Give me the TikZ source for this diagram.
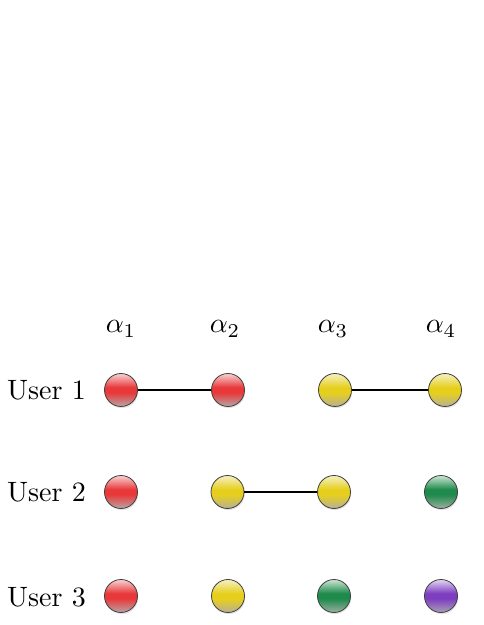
\documentclass[tikz,border=0pt]{standalone}
\usetikzlibrary{shadows}
\definecolor{redT}{HTML}{F8D2D2}
\definecolor{redM}{HTML}{E8383A}
\definecolor{redB}{HTML}{B8A6A6}
\definecolor{yelT}{HTML}{F6F0C4}
\definecolor{yelM}{HTML}{E6CF1C}
\definecolor{yelB}{HTML}{B8B096}
\definecolor{grnT}{HTML}{CDE6D4}
\definecolor{grnM}{HTML}{1E8A4C}
\definecolor{grnB}{HTML}{9CB0A2}
\definecolor{purT}{HTML}{E2D6F2}
\definecolor{purM}{HTML}{7E3EC0}
\definecolor{purB}{HTML}{A9A1B5}
\pgfdeclareverticalshading{redball}{100bp}{color(0bp)=(redB); color(25bp)=(redB); color(46bp)=(redM); color(54bp)=(redM); color(75bp)=(redT); color(100bp)=(redT)}
\pgfdeclareverticalshading{yelball}{100bp}{color(0bp)=(yelB); color(25bp)=(yelB); color(46bp)=(yelM); color(54bp)=(yelM); color(75bp)=(yelT); color(100bp)=(yelT)}
\pgfdeclareverticalshading{grnball}{100bp}{color(0bp)=(grnB); color(25bp)=(grnB); color(46bp)=(grnM); color(54bp)=(grnM); color(75bp)=(grnT); color(100bp)=(grnT)}
\pgfdeclareverticalshading{purball}{100bp}{color(0bp)=(purB); color(25bp)=(purB); color(46bp)=(purM); color(54bp)=(purM); color(75bp)=(purT); color(100bp)=(purT)}
\tikzset{
  ball/.style={circle, minimum size=33pt, inner sep=0pt, draw=black!75, line width=0.8pt,
    drop shadow={shadow xshift=0.8pt, shadow yshift=-1.6pt, opacity=0.22}},
  rball/.style={ball, shading=redball},
  yball/.style={ball, shading=yelball},
  gball/.style={ball, shading=grnball},
  pball/.style={ball, shading=purball},
  ulabel/.style={anchor=base west, inner sep=0pt},
  alab/.style={anchor=base, inner sep=0pt},
  link/.style={line width=1.9pt, black}
}
\newcommand{\bigtxt}[1]{\scalebox{2.8}{#1}}
\begin{document}
\begin{tikzpicture}[x=1pt,y=1pt]
\useasboundingbox (0,0) rectangle (483,625);
% column headers
\node[alab] (h1) at (121,292) {\bigtxt{$\alpha_1$}};
\node[alab] (h2) at (225,292) {\bigtxt{$\alpha_2$}};
\node[alab] (h3) at (333,292) {\bigtxt{$\alpha_3$}};
\node[alab] (h4) at (441,292) {\bigtxt{$\alpha_4$}};
% user labels
\node[ulabel] (u1) at (7,225) {\bigtxt{User 1}};
\node[ulabel] (u2) at (7,123) {\bigtxt{User 2}};
\node[ulabel] (u3) at (7,19) {\bigtxt{User 3}};
% row 1
\node[rball] (a11) at (121,235) {};
\node[rball] (a12) at (228,235) {};
\node[yball] (a13) at (335,235) {};
\node[yball] (a14) at (445,235) {};
% row 2
\node[rball] (a21) at (121,133) {};
\node[yball] (a22) at (227.5,133) {};
\node[yball] (a23) at (334,133) {};
\node[gball] (a24) at (441,133) {};
% row 3
\node[rball] (a31) at (121,29) {};
\node[yball] (a32) at (228,29) {};
\node[gball] (a33) at (334,29) {};
\node[pball] (a34) at (441,29) {};
% links
\draw[link] (a11) -- (a12);
\draw[link] (a13) -- (a14);
\draw[link] (a22) -- (a23);
\end{tikzpicture}
\end{document}
